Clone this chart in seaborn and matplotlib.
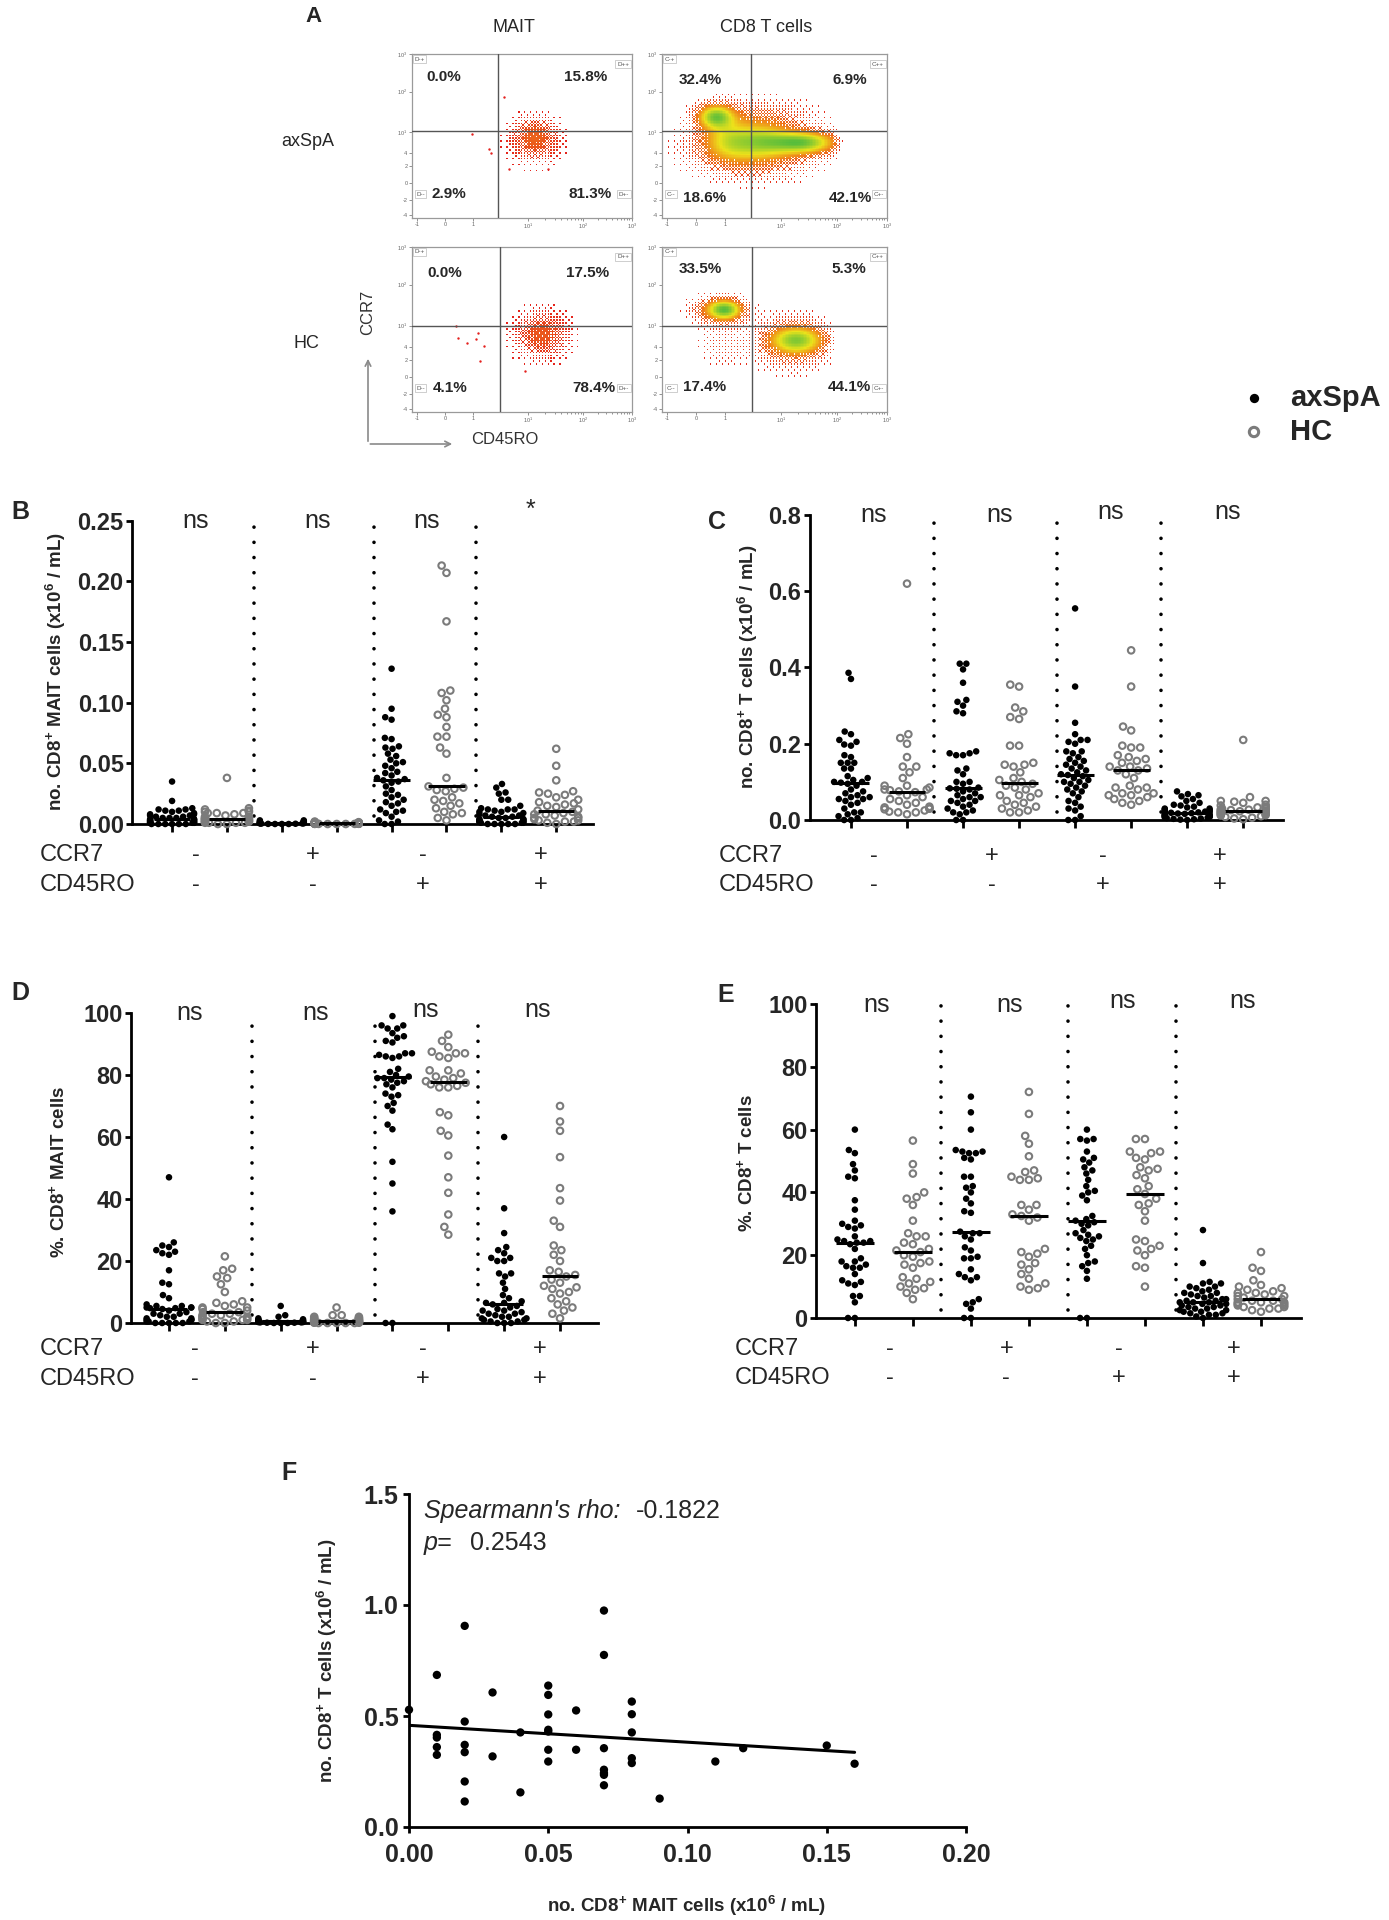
import warnings
warnings.filterwarnings('ignore')
import numpy as np
import pandas as pd
import matplotlib
matplotlib.use('Agg')
import matplotlib.pyplot as plt
import seaborn as sns
from matplotlib.colors import LinearSegmentedColormap
from matplotlib.transforms import blended_transform_factory

# ------------------------------------------------------------------ data
GROUPS = ['axSpA', 'HC']
CCR7_SIGNS = ['-', '+', '-', '+']
CD45RO_SIGNS = ['-', '-', '+', '+']

# B: no. CD8+ MAIT cells (x10^6/mL); subsets in order (CCR7-CD45RO-, CCR7+CD45RO-, CCR7-CD45RO+, CCR7+CD45RO+)
B_axSpA = [
    [0.035, 0.019, 0.013, 0.012, 0.012, 0.011, 0.011, 0.010, 0.009, 0.008, 0.008, 0.007, 0.007, 0.006, 0.006,
     0.005, 0.005, 0.005, 0.004, 0.004, 0.004, 0.003, 0.003, 0.003, 0.003, 0.002, 0.002, 0.002, 0.002, 0.001,
     0.001, 0.001, 0.001, 0.001, 0.0, 0.0, 0.0, 0.0, 0.0, 0.0],
    [0.003, 0.003, 0.002, 0.002, 0.002, 0.0015, 0.0015, 0.001, 0.001, 0.001, 0.0008, 0.0006, 0.0005, 0.0004,
     0.0003, 0.0002, 0.0001, 0.0, 0.0, 0.0],
    [0.128, 0.095, 0.088, 0.086, 0.071, 0.070, 0.064, 0.063, 0.062, 0.058, 0.056, 0.053, 0.051, 0.050, 0.048,
     0.046, 0.043, 0.042, 0.040, 0.038, 0.037, 0.036, 0.035, 0.034, 0.031, 0.028, 0.025, 0.024, 0.022, 0.020,
     0.018, 0.017, 0.015, 0.012, 0.011, 0.010, 0.009, 0.006, 0.003, 0.002, 0.0, 0.0],
    [0.033, 0.030, 0.026, 0.025, 0.020, 0.020, 0.015, 0.013, 0.012, 0.012, 0.012, 0.011, 0.010, 0.010, 0.009,
     0.008, 0.007, 0.007, 0.006, 0.006, 0.005, 0.005, 0.004, 0.004, 0.004, 0.003, 0.003, 0.003, 0.002, 0.002,
     0.002, 0.002, 0.001, 0.001, 0.001, 0.0, 0.0, 0.0, 0.0, 0.0],
]
B_HC = [
    [0.038, 0.013, 0.012, 0.011, 0.010, 0.010, 0.009, 0.009, 0.009, 0.008, 0.007, 0.006, 0.006, 0.005, 0.005,
     0.004, 0.004, 0.004, 0.003, 0.003, 0.003, 0.002, 0.002, 0.002, 0.002, 0.001, 0.001, 0.001, 0.001, 0.0, 0.0],
    [0.002, 0.0015, 0.0015, 0.001, 0.001, 0.001, 0.001, 0.0008, 0.0008, 0.0008, 0.0006, 0.0006, 0.0006, 0.0005,
     0.0005, 0.0005, 0.0004, 0.0004, 0.0003, 0.0003, 0.0003, 0.0002, 0.0002, 0.0002, 0.0001, 0.0001, 0.0001,
     0.0, 0.0, 0.0],
    [0.213, 0.207, 0.167, 0.110, 0.108, 0.102, 0.095, 0.090, 0.088, 0.080, 0.072, 0.072, 0.063, 0.058, 0.038,
     0.031, 0.030, 0.029, 0.028, 0.027, 0.022, 0.020, 0.019, 0.017, 0.015, 0.013, 0.010, 0.009, 0.008, 0.005,
     0.003],
    [0.062, 0.048, 0.036, 0.027, 0.026, 0.025, 0.024, 0.022, 0.020, 0.018, 0.017, 0.016, 0.015, 0.014, 0.012,
     0.011, 0.010, 0.009, 0.008, 0.008, 0.007, 0.006, 0.005, 0.005, 0.004, 0.003, 0.003, 0.002, 0.002, 0.001,
     0.0],
]

# C: no. CD8+ T cells (x10^6/mL)
C_axSpA = [
    [0.386, 0.370, 0.232, 0.225, 0.21, 0.205, 0.198, 0.195, 0.170, 0.165, 0.15, 0.15, 0.15, 0.135, 0.135,
     0.115, 0.11, 0.105, 0.10, 0.10, 0.098, 0.095, 0.09, 0.08, 0.075, 0.07, 0.065, 0.06, 0.06, 0.055, 0.055,
     0.05, 0.045, 0.04, 0.03, 0.02, 0.02, 0.015, 0.01, 0.005, 0.0, 0.0],
    [0.41, 0.41, 0.395, 0.36, 0.315, 0.31, 0.30, 0.285, 0.28, 0.18, 0.175, 0.175, 0.17, 0.17, 0.135, 0.13,
     0.12, 0.10, 0.10, 0.095, 0.085, 0.083, 0.082, 0.08, 0.075, 0.07, 0.065, 0.06, 0.06, 0.055, 0.05, 0.05,
     0.045, 0.04, 0.035, 0.03, 0.025, 0.02, 0.02, 0.015, 0.0, 0.0],
    [0.555, 0.35, 0.255, 0.225, 0.21, 0.21, 0.205, 0.20, 0.18, 0.18, 0.175, 0.165, 0.16, 0.155, 0.15, 0.145,
     0.14, 0.135, 0.13, 0.125, 0.12, 0.118, 0.115, 0.11, 0.105, 0.10, 0.10, 0.095, 0.09, 0.085, 0.08, 0.075,
     0.07, 0.06, 0.05, 0.045, 0.035, 0.03, 0.025, 0.01, 0.0, 0.0],
    [0.075, 0.068, 0.065, 0.062, 0.055, 0.05, 0.045, 0.04, 0.038, 0.035, 0.033, 0.03, 0.03, 0.028, 0.026,
     0.025, 0.024, 0.022, 0.021, 0.02, 0.02, 0.019, 0.018, 0.017, 0.016, 0.015, 0.014, 0.013, 0.012, 0.011,
     0.01, 0.01, 0.009, 0.008, 0.007, 0.006, 0.005, 0.004, 0.003, 0.002, 0.001, 0.0],
]
C_HC = [
    [0.62, 0.225, 0.215, 0.20, 0.165, 0.14, 0.14, 0.125, 0.11, 0.09, 0.09, 0.085, 0.08, 0.08, 0.078, 0.075,
     0.073, 0.065, 0.06, 0.055, 0.05, 0.045, 0.04, 0.035, 0.033, 0.03, 0.03, 0.028, 0.025, 0.022, 0.02, 0.02,
     0.015],
    [0.355, 0.35, 0.295, 0.285, 0.27, 0.265, 0.195, 0.195, 0.15, 0.145, 0.145, 0.14, 0.125, 0.11, 0.105, 0.10,
     0.095, 0.09, 0.085, 0.08, 0.07, 0.065, 0.065, 0.06, 0.05, 0.045, 0.04, 0.035, 0.03, 0.025, 0.02, 0.02],
    [0.445, 0.35, 0.245, 0.235, 0.195, 0.19, 0.19, 0.17, 0.165, 0.16, 0.155, 0.15, 0.14, 0.14, 0.135, 0.13,
     0.13, 0.12, 0.11, 0.09, 0.085, 0.085, 0.08, 0.07, 0.07, 0.065, 0.065, 0.06, 0.055, 0.05, 0.045, 0.04],
    [0.21, 0.06, 0.05, 0.05, 0.048, 0.045, 0.04, 0.038, 0.035, 0.033, 0.03, 0.03, 0.028, 0.027, 0.026, 0.025,
     0.024, 0.023, 0.022, 0.021, 0.02, 0.02, 0.018, 0.016, 0.015, 0.013, 0.012, 0.01, 0.008, 0.006, 0.004,
     0.002],
]

# D: % of CD8+ MAIT cells
D_axSpA = [
    [47, 26, 25, 24.5, 23.5, 23, 22.5, 22, 17, 13, 12.5, 9, 8, 6, 5.5, 5.5, 5, 5, 5, 4.8, 4.8, 4.5, 4, 3.5, 3,
     3, 2.5, 2, 2, 1.5, 1.5, 1, 1, 1, 0.5, 0.5, 0.5, 0, 0, 0, 0, 0],
    [5.5, 2.5, 2, 1.5, 1.2, 1, 1, 0.8, 0.6, 0.5, 0.5, 0.4, 0.3, 0.3, 0.2, 0.2, 0.1, 0.1, 0, 0, 0],
    [99, 96, 96, 95, 95, 93.5, 92.5, 92, 91, 90.5, 87, 87, 86.5, 86, 86, 85.5, 82, 81, 80, 79.5, 79, 79, 78.5,
     78, 77.5, 77, 76, 74, 73.5, 73, 71, 70, 68.5, 64, 62.5, 52, 45, 36, 0, 0],
    [60, 37, 29, 24.5, 23.5, 22.5, 21, 21, 20, 20, 16, 16, 15, 13, 11, 9, 8, 7, 6.5, 6.5, 6, 5.5, 5, 4.5, 4, 4,
     3.5, 3, 3, 2.5, 2, 2, 1.5, 1.5, 1, 1, 0.5, 0.5, 0, 0, 0],
]
D_HC = [
    [21.5, 17.5, 17, 15, 14.5, 12.5, 10, 7, 6.5, 6, 5.5, 5, 5, 4.5, 4, 3.5, 3.5, 3, 3, 2.5, 2.5, 2, 2, 1.5, 1.5,
     1, 1, 1, 0.5, 0.5, 0, 0],
    [5, 2.5, 2.5, 2, 2, 1.5, 1.5, 1.5, 1, 1, 1, 1, 0.8, 0.8, 0.5, 0.5, 0.5, 0.5, 0.3, 0.3, 0.3, 0.2, 0.2, 0.1,
     0.1, 0, 0, 0, 0, 0],
    [93, 91, 89, 87.5, 87, 87, 86, 85.5, 81.5, 81.5, 80.5, 79.5, 79, 78.5, 78, 77.5, 77, 76.5, 76, 76, 68, 67,
     62, 60.5, 54, 47, 42, 35, 31, 28.5],
    [70, 65, 62, 53.5, 43.5, 39.5, 33, 31, 25, 23.5, 22, 20, 17, 16.5, 15.5, 15, 14, 13, 12, 11.5, 11, 10, 9.5,
     8, 7, 6, 5, 4, 3, 1.5],
]

# E: % of CD8+ T cells
E_axSpA = [
    [60, 53.5, 52.5, 49, 47, 45, 44.5, 37.5, 34.5, 31, 30, 29.5, 29, 28.5, 26, 25, 24.5, 24.5, 24, 24, 23.5, 22,
     19, 18, 18, 17, 16.5, 16, 16, 14, 12, 11.5, 11, 10.5, 7, 7, 5, 0, 0],
    [70.5, 65.5, 60, 53.5, 53, 53, 52.5, 52.5, 51, 50.5, 45, 45, 42, 41.5, 40, 38, 36.5, 34, 33.5, 27.5, 27, 27,
     26, 25, 22.5, 21.5, 19.5, 19, 19, 15.5, 14, 13, 13, 12, 6, 5, 4.5, 3, 0, 0],
    [60, 57, 57, 56.5, 53, 51, 50.5, 49.5, 48, 47, 46, 44, 42, 40.5, 40, 39, 37.5, 32.5, 31.5, 31, 30.5, 30,
     29.5, 28, 27, 26.5, 26, 25.5, 25, 24.5, 23, 22, 20, 18, 17.5, 16.5, 15, 12.5, 0, 0],
    [28, 17.5, 11.5, 11, 11, 10, 10, 9.5, 9, 8.5, 8, 8, 7.5, 7, 7, 6.5, 6, 6, 5.5, 5.5, 5, 5, 5, 4.5, 4.5, 4, 4,
     3.5, 3.5, 3, 3, 2.5, 2.5, 2, 2, 1.5, 1.5, 1, 1, 0.5, 0],
]
E_HC = [
    [56.5, 49, 46, 40, 38.5, 38, 36, 31, 27, 26, 26, 24, 23.5, 22, 21.5, 21, 20, 19.5, 18, 17.5, 17, 16, 13, 12.5,
     11.5, 11, 10, 9.5, 9, 8, 6],
    [72, 65, 58, 55.5, 51.5, 47, 46.5, 45, 44.5, 44, 44, 36, 36, 34.5, 33, 32.5, 32, 31, 22, 21, 20.5, 19.5, 17.5,
     17, 15.5, 14, 12.5, 11, 10, 9.5, 9],
    [57, 57, 53, 53, 52.5, 51, 50.5, 48, 47.5, 47, 45.5, 44.5, 42, 41, 39.5, 38, 36.5, 36, 34, 31, 25, 24.5, 23,
     22, 21.5, 20, 16.5, 16, 10],
    [21, 16, 15, 12, 10.5, 10, 9.5, 9, 8.5, 8, 8, 7.5, 7, 7, 6.5, 6, 6, 5.5, 5.5, 5, 5, 5, 4.5, 4.5, 4, 4, 3.5,
     3.5, 3, 3, 2.5, 2],
]

NS_B = ['ns', 'ns', 'ns', '*']
NS_C = ['ns', 'ns', 'ns', 'ns']
NS_D = ['ns', 'ns', 'ns', 'ns']
NS_E = ['ns', 'ns', 'ns', 'ns']

# F: correlation axSpA
F_mait = [0.00, 0.01, 0.01, 0.01, 0.01, 0.01, 0.02, 0.02, 0.02, 0.02, 0.02, 0.02, 0.03, 0.03, 0.04, 0.04,
          0.05, 0.05, 0.05, 0.05, 0.05, 0.05, 0.05, 0.06, 0.06, 0.07, 0.07, 0.07, 0.07, 0.07, 0.07, 0.07,
          0.08, 0.08, 0.08, 0.08, 0.08, 0.09, 0.11, 0.12, 0.15, 0.16]
F_cd8 = [0.528, 0.685, 0.415, 0.403, 0.36, 0.325, 0.906, 0.475, 0.37, 0.337, 0.205, 0.115, 0.606, 0.318,
         0.426, 0.156, 0.637, 0.595, 0.507, 0.438, 0.43, 0.348, 0.295, 0.525, 0.348, 0.975, 0.775, 0.355,
         0.258, 0.243, 0.235, 0.188, 0.565, 0.508, 0.426, 0.31, 0.288, 0.128, 0.295, 0.355, 0.367, 0.285]
F_line = [0.458, -0.76]          # intercept, slope of the drawn trend line
F_rho = '-0.1822'
F_p = '0.2543'

# A: flow cytometry quadrant frequencies (top-left, top-right, bottom-left, bottom-right)
A_pct_MAIT_axSpA = [0.0, 15.8, 2.9, 81.3]
A_pct_CD8_axSpA = [32.4, 6.9, 18.6, 42.1]
A_pct_MAIT_HC = [0.0, 17.5, 4.1, 78.4]
A_pct_CD8_HC = [33.5, 5.3, 17.4, 44.1]
# density clusters (x, y, sx, sy, weight) in plot fractions
A_cl_MAIT_axSpA = [(0.555, 0.49, 0.06, 0.075, 1.0), (0.56, 0.46, 0.09, 0.11, 0.25)]
A_cl_MAIT_HC = [(0.59, 0.47, 0.065, 0.075, 1.0), (0.58, 0.46, 0.10, 0.12, 0.25)]
A_cl_CD8_axSpA = [(0.24, 0.62, 0.055, 0.05, 1.0), (0.63, 0.46, 0.10, 0.045, 1.0),
                  (0.30, 0.47, 0.08, 0.08, 0.55), (0.45, 0.47, 0.08, 0.07, 0.5),
                  (0.42, 0.47, 0.20, 0.14, 0.25), (0.40, 0.38, 0.18, 0.10, 0.2),
                  (0.45, 0.63, 0.15, 0.07, 0.15)]
A_cl_CD8_HC = [(0.28, 0.62, 0.05, 0.04, 1.0), (0.25, 0.62, 0.09, 0.06, 0.35),
               (0.60, 0.435, 0.08, 0.055, 0.9), (0.58, 0.42, 0.12, 0.12, 0.3),
               (0.27, 0.40, 0.08, 0.09, 0.15)]
A_out_MAIT_axSpA = [(0.276, 0.512), (0.35, 0.42), (0.36, 0.40), (0.44, 0.30), (0.62, 0.30), (0.42, 0.74)]
A_out_MAIT_HC = [(0.21, 0.45), (0.25, 0.42), (0.29, 0.44), (0.31, 0.31), (0.515, 0.25), (0.33, 0.40),
                 (0.20, 0.52), (0.30, 0.48)]

# ------------------------------------------------------------------ style
W, H = 1389, 1920
sns.set_style('ticks')
plt.rcParams['font.family'] = ['Liberation Sans', 'DejaVu Sans']
plt.rcParams['mathtext.fontset'] = 'custom'
plt.rcParams['mathtext.rm'] = 'Liberation Sans'
plt.rcParams['mathtext.bf'] = 'Liberation Sans:bold'
plt.rcParams['mathtext.it'] = 'Liberation Sans:italic'
NARROW = ['Liberation Sans Narrow', 'Liberation Sans', 'DejaVu Sans']
HC_GREY = '#7b7b7b'
TICK_FS = 17

fig = plt.figure(figsize=(W / 100, H / 100), dpi=100)


def add_ax(l, t, r, b):
    return fig.add_axes([l / W, 1 - b / H, (r - l) / W, (b - t) / H])


def ftext(x, y, s, **kw):
    return fig.text(x / W, 1 - y / H, s, **kw)


def dot_panel(box, xlim, ymax, yticks, yfmt, axspa, hc, seps, ns_x, ns_y, ns_txt, sign_x, rows_y, row_lx):
    l, t, r, b = box
    ax = add_ax(l, t, r, b)
    rows = []
    for k in range(4):
        rows += [(2 * k, v, 'axSpA') for v in axspa[k]]
        rows += [(2 * k + 1, v, 'HC') for v in hc[k]]
    df = pd.DataFrame(rows, columns=['pos', 'val', 'grp'])
    sns.swarmplot(data=df, x='pos', y='val', hue='grp', hue_order=GROUPS,
                  palette={'axSpA': 'black', 'HC': HC_GREY}, native_scale=True, orient='x',
                  size=4.7, linewidth=0, legend=False, ax=ax, warn_thresh=1.0)
    for coll in ax.collections:
        fc = coll.get_facecolor()
        if len(fc) and fc[0][0] > 0.2:
            coll.set_facecolor('none')
            coll.set_edgecolor(HC_GREY)
            coll.set_linewidth(1.5)
        coll.set_clip_on(False)
        coll.set_zorder(3)
    for pos, g in df.groupby('pos'):
        med = g['val'].median()
        ax.plot([pos - 0.33, pos + 0.33], [med, med], color='black', lw=2.2,
                solid_capstyle='butt', zorder=4, clip_on=False)
    trans = blended_transform_factory(ax.transData, ax.transAxes)
    for sx in seps:
        ax.plot([sx, sx], [0.025, 1.0], transform=trans, color='black', lw=2.6,
                linestyle=(0, (0.01, 4.2)), dash_capstyle='round', clip_on=False, zorder=2)
    for x, y, s in zip(ns_x, ns_y, ns_txt):
        ax.text(x, y, s, transform=trans, ha='center', va='center', fontsize=18, family=NARROW)
    ax.set_xlim(*xlim)
    ax.set_ylim(0, ymax)
    ax.set_xticks(range(8))
    ax.set_xticklabels([])
    ax.set_yticks(yticks)
    ax.set_yticklabels([yfmt.format(v) for v in yticks], fontsize=TICK_FS, fontweight='bold', family=NARROW)
    ax.set_xlabel('')
    ax.set_ylabel('')
    for s in ['top', 'right']:
        ax.spines[s].set_visible(False)
    for s in ['left', 'bottom']:
        ax.spines[s].set_linewidth(2.0)
        ax.spines[s].set_color('black')
    ax.tick_params(axis='both', direction='out', length=4.5, width=2.0, color='black', pad=1.5)
    ax.tick_params(axis='x', length=5.5)
    strans = blended_transform_factory(ax.transData, fig.transFigure)
    for i in range(4):
        ax.text(sign_x[i], 1 - rows_y[0] / H, CCR7_SIGNS[i], transform=strans, ha='center', va='center',
                fontsize=17)
        ax.text(sign_x[i], 1 - rows_y[1] / H, CD45RO_SIGNS[i], transform=strans, ha='center', va='center',
                fontsize=17)
    ftext(row_lx, rows_y[0], 'CCR7', ha='left', va='center', fontsize=17)
    ftext(row_lx, rows_y[1], 'CD45RO', ha='left', va='center', fontsize=17)
    return ax


SEPS = [1.49, 3.68, 5.53]

# B
dot_panel((132, 520.7, 593, 824), (-0.73, 7.67), 0.25, [0, 0.05, 0.10, 0.15, 0.20, 0.25], '{:.2f}',
          B_axSpA, B_HC, SEPS, [0.42, 2.66, 4.63, 6.53], [1.0, 1.0, 1.0, 1.035], NS_B,
          [0.43, 2.56, 4.57, 6.71], (855, 885), 40)
ftext(11, 512, 'B', fontsize=18, fontweight='bold', ha='left', va='center')
ftext(56, 672, r'no. CD8$^{\mathbf{+}}$ MAIT cells (x10$^{\mathbf{6}}$ / mL)', rotation=90, fontsize=13.5,
      fontweight='bold', ha='center', va='center')

# C
dot_panel((809.5, 515, 1283, 820), (-0.74, 7.71), 0.8, [0, 0.2, 0.4, 0.6, 0.8], '{:.1f}',
          C_axSpA, C_HC, SEPS, [0.40, 2.66, 4.63, 6.72], [1.0, 1.0, 1.01, 1.01], NS_C,
          [0.41, 2.51, 4.49, 6.58], (856, 885), 719)
ftext(708, 522, 'C', fontsize=18, fontweight='bold', ha='left', va='center')
ftext(748, 667, r'no. CD8$^{\mathbf{+}}$ T cells (x10$^{\mathbf{6}}$ / mL)', rotation=90, fontsize=13.5,
      fontweight='bold', ha='center', va='center')

# D
dot_panel((131, 1013, 598, 1323), (-0.68, 7.68), 100, [0, 20, 40, 60, 80, 100], '{:d}',
          D_axSpA, D_HC, SEPS, [0.37, 2.63, 4.6, 6.6], [1.0, 1.0, 1.01, 1.01], NS_D,
          [0.47, 2.57, 4.55, 6.64], (1349, 1379), 40)
ftext(11, 993, 'D', fontsize=18, fontweight='bold', ha='left', va='center')
ftext(58, 1172, r'%. CD8$^{\mathbf{+}}$ MAIT cells', rotation=90, fontsize=13.5,
      fontweight='bold', ha='center', va='center')

# E
dot_panel((816, 1004, 1301, 1318), (-0.67, 7.69), 100, [0, 20, 40, 60, 80, 100], '{:d}',
          E_axSpA, E_HC, SEPS, [0.38, 2.66, 4.62, 6.69], [0.997, 0.997, 1.01, 1.01], NS_E,
          [0.61, 2.61, 4.55, 6.53], (1349, 1378), 735)
ftext(717, 995, 'E', fontsize=18, fontweight='bold', ha='left', va='center')
ftext(746, 1163, r'%. CD8$^{\mathbf{+}}$ T cells', rotation=90, fontsize=13.5,
      fontweight='bold', ha='center', va='center')

# F
axF = add_ax(409, 1494, 966, 1827)
sns.scatterplot(x=F_mait, y=F_cd8, color='black', s=36, edgecolor='none', ax=axF, clip_on=False, zorder=3)
xl = np.array([min(F_mait), max(F_mait)])
axF.plot(xl, F_line[0] + F_line[1] * xl, color='black', lw=2.2, zorder=2)
axF.set_xlim(0, 0.2)
axF.set_ylim(0, 1.5)
axF.set_xticks([0, 0.05, 0.10, 0.15, 0.20])
axF.set_xticklabels(['0.00', '0.05', '0.10', '0.15', '0.20'], fontsize=18, fontweight='bold', family=NARROW)
axF.set_yticks([0, 0.5, 1.0, 1.5])
axF.set_yticklabels(['0.0', '0.5', '1.0', '1.5'], fontsize=18, fontweight='bold', family=NARROW)
for s in ['top', 'right']:
    axF.spines[s].set_visible(False)
for s in ['left', 'bottom']:
    axF.spines[s].set_linewidth(2.0)
    axF.spines[s].set_color('black')
axF.tick_params(axis='both', direction='out', length=4.5, width=2.0, color='black')
axF.tick_params(axis='x', pad=7)
axF.tick_params(axis='y', pad=3)
ftext(281, 1473, 'F', fontsize=18, fontweight='bold', ha='left', va='center')
ftext(424, 1511, "Spearmann's rho:", fontsize=18, style='italic', ha='left', va='center')
ftext(636, 1511, F_rho, fontsize=18, ha='left', va='center')
ftext(424, 1543, 'p=', fontsize=18, style='italic', ha='left', va='center')
ftext(470, 1543, F_p, fontsize=18, ha='left', va='center')
ftext(327, 1661, r'no. CD8$^{\mathbf{+}}$ T cells (x10$^{\mathbf{6}}$ / mL)', rotation=90, fontsize=13.5,
      fontweight='bold', ha='center', va='center')
ftext(686, 1906, r'no. CD8$^{\mathbf{+}}$ MAIT cells (x10$^{\mathbf{6}}$ / mL)', fontsize=13.5,
      fontweight='bold', ha='center', va='center')

# ------------------------------------------------------------------ A: flow plots
flow_cmap = LinearSegmentedColormap.from_list(
    'flow', [(0.0, '#e4201c'), (0.35, '#f0841c'), (0.62, '#ece31b'), (1.0, '#56bd3c')])
NXG, NYG = 150, 112
gx = (np.arange(NXG) + 0.5) / NXG
gy = (np.arange(NYG) + 0.5) / NYG
GX, GY = np.meshgrid(gx, gy)
# ordered (Bayer) dither thresholds for a speckled dot-plot look
BAYER = (np.array([[0, 8, 2, 10], [12, 4, 14, 6], [3, 11, 1, 9], [15, 7, 13, 5]]) + 0.5) / 16
DITHER = np.tile(BAYER, (NYG // 4 + 1, NXG // 4 + 1))[:NYG, :NXG]


def flow_plot(box, clusters, peak, fill, xcut, outliers, pcts, pos, qx, qy, letter):
    ax = add_ax(*box)
    D = np.zeros_like(GX)
    for cx, cy, sx, sy, w in clusters:
        D += w * np.exp(-0.5 * (((GX - cx) / sx) ** 2 + ((GY - cy) / sy) ** 2))
    D = D / D.max()
    D = D / (1 + np.exp((GX - xcut) / 0.01))
    rgba = flow_cmap(np.clip(D * peak, 0, 1))
    p = np.clip((D - 0.03) * fill, 0, 0.97)
    rgba[..., 3] = (p > DITHER).astype(float)
    ax.imshow(rgba, extent=(0, 1, 0, 1), origin='lower', interpolation='nearest', aspect='auto', zorder=1)
    if outliers:
        ox, oy = zip(*outliers)
        ax.scatter(ox, oy, s=3, color='#e4201c', lw=0, zorder=2)
    ax.axvline(qx, color='#555555', lw=1.0, zorder=3)
    ax.axhline(qy, color='#555555', lw=1.0, zorder=3)
    ax.set_xlim(0, 1)
    ax.set_ylim(0, 1)
    for s in ax.spines.values():
        s.set_color('#9a9a9a')
        s.set_linewidth(0.9)
    ax.set_xticks([0.023, 0.152, 0.28, 0.53, 0.78, 1.0])
    ax.set_xticklabels(['-1', '0', '1', r'$10^1$', r'$10^2$', r'$10^3$'])
    ax.set_yticks([0.02, 0.112, 0.213, 0.315, 0.396, 0.524, 0.772, 1.0])
    ax.set_yticklabels(['-4', '-2', '0', '2', '4', r'$10^1$', r'$10^2$', r'$10^3$'])
    minor = [0.53 + 0.25 * np.log10(k) for k in range(2, 10)] + [0.78 + 0.22 * np.log10(k) for k in range(2, 10)]
    ax.set_xticks(minor, minor=True)
    ax.tick_params(which='both', length=2, width=0.5, colors='#666666', labelsize=4, pad=1)
    ax.tick_params(which='minor', length=1.2)
    kw = dict(transform=ax.transAxes, ha='center', va='center', fontsize=11, fontweight='bold', zorder=5)
    for (px, py), v in zip(pos, pcts):
        ax.text(px, py, f'{v:.1f}%', **kw)
    gkw = dict(transform=ax.transAxes, fontsize=4.5, color='#555555', zorder=5,
               bbox=dict(boxstyle='square,pad=0.25', fc='white', ec='#bbbbbb', lw=0.5))
    ax.text(0.012, 0.985, letter + '-+', ha='left', va='top', **gkw)
    ax.text(0.988, 0.955, letter + '++', ha='right', va='top', **gkw)
    ax.text(0.02, 0.145, letter + '--', ha='left', va='center', **gkw)
    ax.text(0.988, 0.145, letter + '+-', ha='right', va='center', **gkw)
    return ax


flow_plot((411.7, 54.3, 631.7, 218), A_cl_MAIT_axSpA, 0.24, 0.95, 2.0, A_out_MAIT_axSpA, A_pct_MAIT_axSpA,
          [(0.145, 0.86), (0.79, 0.86), (0.17, 0.147), (0.81, 0.147)], 0.39, 0.533, 'D')
flow_plot((661.7, 54.3, 886.7, 218), A_cl_CD8_axSpA, 1.0, 2.4, 0.79, None, A_pct_CD8_axSpA,
          [(0.17, 0.845), (0.835, 0.845), (0.19, 0.12), (0.84, 0.12)], 0.397, 0.533, 'C')
flow_plot((411.7, 247, 631.7, 412), A_cl_MAIT_HC, 0.2, 0.95, 2.0, A_out_MAIT_HC, A_pct_MAIT_HC,
          [(0.15, 0.84), (0.8, 0.84), (0.175, 0.147), (0.83, 0.147)], 0.40, 0.52, 'D')
flow_plot((661.7, 247, 886.7, 412), A_cl_CD8_HC, 1.0, 2.4, 0.77, None, A_pct_CD8_HC,
          [(0.173, 0.865), (0.83, 0.865), (0.19, 0.15), (0.834, 0.15)], 0.40, 0.52, 'C')

ftext(314, 16, 'A', fontsize=16, fontweight='bold', ha='center', va='center')
ftext(514, 28, 'MAIT', fontsize=13, family=NARROW, ha='center', va='center')
ftext(766, 28, 'CD8 T cells', fontsize=13, family=NARROW, ha='center', va='center')
ftext(308, 142, 'axSpA', fontsize=13, family=NARROW, ha='center', va='center')
ftext(306, 343, 'HC', fontsize=13, family=NARROW, ha='center', va='center')
ftext(368, 312, 'CCR7', fontsize=12, rotation=90, family=NARROW, ha='center', va='center', color='#333333')
ftext(505, 440, 'CD45RO', fontsize=12, family=NARROW, ha='center', va='center', color='#333333')

# overlay for arrows and legend (pixel coordinates)
ov = fig.add_axes([0, 0, 1, 1])
ov.set_xlim(0, W)
ov.set_ylim(H, 0)
ov.axis('off')
ov.patch.set_alpha(0)
ov.annotate('', xy=(368, 356), xytext=(368, 444),
            arrowprops=dict(arrowstyle='->', color='#8a8a8a', lw=1.2))
ov.annotate('', xy=(455, 444), xytext=(367.5, 444),
            arrowprops=dict(arrowstyle='->', color='#8a8a8a', lw=1.2))
ov.scatter([1254], [398], s=45, color='black', lw=0)
ov.scatter([1254], [432], s=45, facecolor='none', edgecolor=HC_GREY, lw=2.2)
ov.text(1290, 398, 'axSpA', fontsize=21, fontweight='bold', ha='left', va='center', family=NARROW)
ov.text(1290, 432, 'HC', fontsize=21, fontweight='bold', ha='left', va='center', family=NARROW)

fig.savefig('out.png', dpi=100)
